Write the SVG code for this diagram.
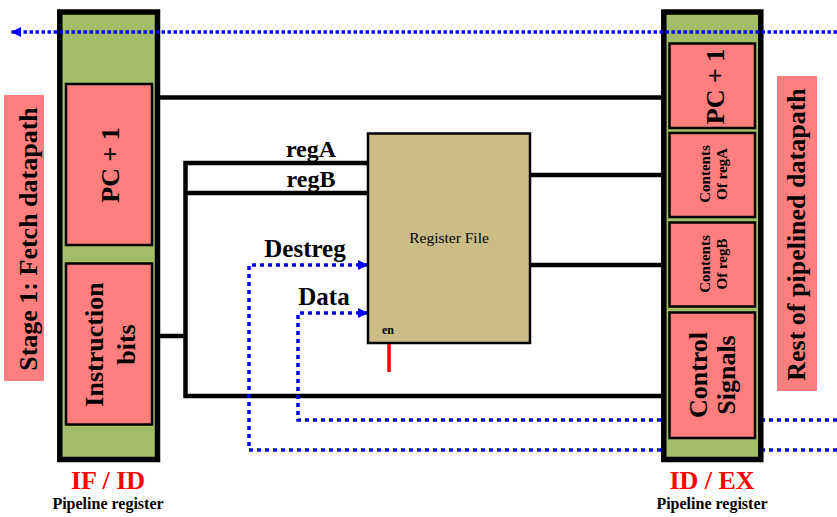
<svg xmlns="http://www.w3.org/2000/svg" width="837" height="517" viewBox="0 0 837 517">
<style>
.reg{fill:#A3BD69;stroke:#000;stroke-width:5.5}
.box{fill:#FF7F7F;stroke:#000;stroke-width:2.5}
.lbl{fill:#FF7F7F}
.wire{fill:none;stroke:#000;stroke-width:4.5;stroke-linejoin:miter}
.dot{fill:none;stroke:#0000FF;stroke-width:3.5;stroke-dasharray:4 4}
.dot6{fill:none;stroke:#0000FF;stroke-width:3.5;stroke-dasharray:3.5 2.5}
.t{font-family:"Liberation Serif","Times New Roman",serif;font-weight:bold;fill:#000;text-anchor:middle}
.red{fill:#FF0000}
</style>
<defs>
<marker id="ah" markerUnits="userSpaceOnUse" markerWidth="12" markerHeight="12" viewBox="0 0 12 12" refX="10" refY="6" orient="auto">
<path d="M0,1 L10,6 L0,11 Z" fill="#0000FF"/>
</marker>
</defs>

<g id="stage1-label">
<rect class="lbl" x="4" y="95" width="40" height="286"/>
<text class="t" font-size="26" transform="translate(37,239) rotate(-90)">Stage 1: Fetch datapath</text>
</g>
<g id="rest-label">
<rect class="lbl" x="777" y="76" width="40" height="315"/>
<text class="t" font-size="26" transform="translate(805,234.5) rotate(-90)">Rest of pipelined datapath</text>
</g>

<g id="connectors">
<path class="wire" d="M160,97.5 H661"/>
<path class="wire" d="M368,163 H185.5 V396 H661"/>
<path class="wire" d="M368,193 H185.5"/>
<path class="wire" d="M160,336 H185.5"/>
<path class="wire" d="M530,175 H661"/>
<path class="wire" d="M530,265 H661"/>
<path class="dot" d="M837,450 H249 V265 H368" marker-end="url(#ah)"/>
<path class="dot" d="M837,420 H298 V313 H368" marker-end="url(#ah)"/>
<path d="M389,343 V372" stroke="#FF0000" stroke-width="3.5"/>
</g>

<g id="labels">
<text class="t" font-size="24" x="311" y="157">regA</text>
<text class="t" font-size="24" x="311" y="187">regB</text>
<text class="t" font-size="25" x="305" y="257">Destreg</text>
<text class="t" font-size="25" x="324" y="305">Data</text>
</g>

<g id="register-file">
<rect x="368" y="133.5" width="162" height="209.5" fill="#CBBD85" stroke="#000" stroke-width="2.5"/>
<text x="449" y="243" font-family="'Liberation Serif','Times New Roman',serif" font-size="15.5" text-anchor="middle">Register File</text>
<text class="t" font-size="12" x="388" y="334">en</text>
</g>

<g id="if-id">
<rect class="reg" x="59.8" y="12" width="97.7" height="447.5"/>
<rect class="box" x="66" y="84" width="86" height="161"/>
<text class="t" font-size="26" transform="translate(119,165) rotate(-90)">PC + 1</text>
<rect class="box" x="66" y="263.5" width="86" height="161"/>
<text class="t" font-size="26" transform="translate(110,344.5) rotate(-90)"><tspan x="0" y="-7">Instruction</tspan><tspan x="0" y="25">bits</tspan></text>
<text class="t red" font-size="26" x="108" y="489">IF / ID</text>
<text class="t" font-size="16" x="108" y="509">Pipeline register</text>
</g>

<g id="id-ex">
<rect class="reg" x="663.8" y="12" width="97" height="447.5"/>
<rect class="box" x="669.5" y="43.5" width="85.5" height="84.5"/>
<text class="t" font-size="26" transform="translate(724,86.5) rotate(-90)">PC + 1</text>
<rect class="box" x="669.5" y="133" width="85.5" height="84"/>
<text class="t" font-size="15" transform="translate(712,174) rotate(-90)"><tspan x="0" y="-2">Contents</tspan><tspan x="0" y="15">Of regA</tspan></text>
<rect class="box" x="669.5" y="222.5" width="85.5" height="84"/>
<text class="t" font-size="15" transform="translate(712,264) rotate(-90)"><tspan x="0" y="-2">Contents</tspan><tspan x="0" y="15">Of regB</tspan></text>
<rect class="box" x="669.5" y="312.5" width="85.5" height="125.5"/>
<text class="t" font-size="26" transform="translate(712,375) rotate(-90)"><tspan x="0" y="-5">Control</tspan><tspan x="0" y="23">Signals</tspan></text>
<text class="t red" font-size="26" x="712" y="489">ID / EX</text>
<text class="t" font-size="16" x="712" y="509">Pipeline register</text>
</g>

<g id="feedback">
<path class="dot6" d="M837,32 H11" marker-end="url(#ah)"/>
</g>
</svg>
